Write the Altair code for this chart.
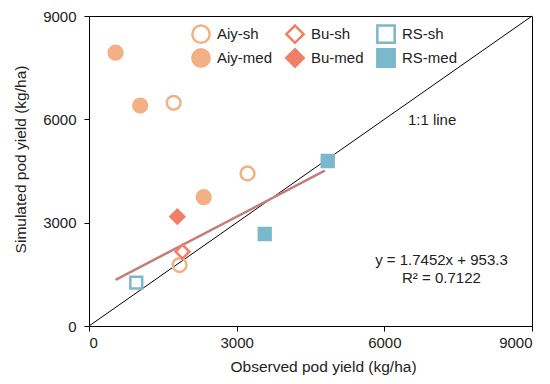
import altair as alt
import pandas as pd

# ---- data ----
groups = ["Aiy-sh", "Aiy-sh", "Aiy-sh", "Aiy-med", "Aiy-med", "Aiy-med",
          "Bu-sh", "Bu-med", "RS-sh", "RS-med", "RS-med"]
observed = [1720, 3220, 1840, 540, 1040, 2330, 1900, 1795, 960, 4850, 3570]
simulated = [6480, 4430, 1770, 7935, 6400, 3740, 2157, 3174, 1257, 4790, 2670]

# legend is filled column by column (2 rows x 3 columns)
legend_order = ["Aiy-sh", "Aiy-med", "Bu-sh", "Bu-med", "RS-sh", "RS-med"]
shapes = ["circle", "circle", "diamond", "diamond", "square", "square"]
stroke_colors = ["#F2B184", "#F2B184", "#F07F67", "#F07F67", "#7AB8CC", "#7AB8CC"]
fill_colors = ["transparent", "#F2B184", "transparent", "#F07F67", "transparent", "#7AB8CC"]

one_to_one_x = [0, 9000]
one_to_one_y = [0, 9000]
fit_x = [540, 4790]
fit_y = [1340, 4510]

ticks = [0, 3000, 6000, 9000]

annot_text = ["1:1 line", "y = 1.7452x + 953.3", "R\u00b2 = 0.7122"]
annot_x = [6970, 7160, 7160]
annot_y = [5980, 1916, 1394]

pts = pd.DataFrame({"group": groups, "obs": observed, "sim": simulated})
l11 = pd.DataFrame({"x": one_to_one_x, "y": one_to_one_y})
fit = pd.DataFrame({"x": fit_x, "y": fit_y})
ann = pd.DataFrame({"t": annot_text, "x": annot_x, "y": annot_y})

xscale = alt.Scale(domain=[0, 9000], nice=False)
yscale = alt.Scale(domain=[0, 9000], nice=False)

xaxis = alt.Axis(values=ticks, format="d", title="Observed pod yield (kg/ha)", grid=False,
                 titleX=234, titleY=40, titleBaseline="middle", titleAnchor="middle",
                 labelPadding=4)
yaxis = alt.Axis(values=ticks, format="d", title="Simulated pod yield (kg/ha)", grid=False,
                 labelFlush=False, titleX=-69, titleY=143, titleBaseline="middle",
                 titleAnchor="middle", labelPadding=8)

base_x = alt.X("x:Q", scale=xscale, axis=xaxis)
base_y = alt.Y("y:Q", scale=yscale, axis=yaxis)

line11 = alt.Chart(l11).mark_line(color="black", strokeWidth=1).encode(x=base_x, y=base_y)
fitline = alt.Chart(fit).mark_line(color="#C27F7A", strokeWidth=2.5).encode(x=base_x, y=base_y)

enc = dict(
    x=alt.X("obs:Q", scale=xscale, axis=xaxis),
    y=alt.Y("sim:Q", scale=yscale, axis=yaxis),
    shape=alt.Shape("group:N", scale=alt.Scale(domain=legend_order, range=shapes), title=None),
    stroke=alt.Stroke("group:N", scale=alt.Scale(domain=legend_order, range=stroke_colors), title=None),
    fill=alt.Fill("group:N", scale=alt.Scale(domain=legend_order, range=fill_colors), title=None),
)

round_pts = alt.Chart(pts).transform_filter(
    "indexof(datum.group, 'RS') != 0").mark_point(size=190, strokeWidth=2.5, opacity=1).encode(**enc)
square_pts = alt.Chart(pts).transform_filter(
    "indexof(datum.group, 'RS') == 0").mark_point(size=140, strokeWidth=2.5, opacity=1).encode(**enc)

texts = alt.Chart(ann).mark_text(fontSize=15, color="#222222", font="Liberation Sans",
                                 align="center", baseline="middle").encode(
    x=alt.X("x:Q", scale=xscale), y=alt.Y("y:Q", scale=yscale), text="t:N")

chart = alt.layer(line11, fitline, round_pts, square_pts, texts).properties(
    width=443, height=310,
    autosize=alt.AutoSizeParams(type="none"),
    padding={"left": 81, "top": 8, "right": 8, "bottom": 50},
).configure_view(stroke="black", strokeWidth=1).configure_axis(
    domainColor="black", tickColor="black", tickSize=5, labelFontSize=15,
    labelColor="#222222", titleColor="#222222", titleFontSize=15.5,
    titleFontWeight="normal", labelFont="Liberation Sans", titleFont="Liberation Sans",
).configure_legend(
    orient="none", legendX=102, legendY=8, columns=3, padding=0,
    symbolSize=300, symbolStrokeWidth=2.5, labelFontSize=15, labelColor="#222222",
    labelFont="Liberation Sans", labelOffset=6, columnPadding=8, rowPadding=-6,
    symbolOpacity=1,
)

chart.save("out.html", embed_options={"renderer": "svg", "actions": False})
